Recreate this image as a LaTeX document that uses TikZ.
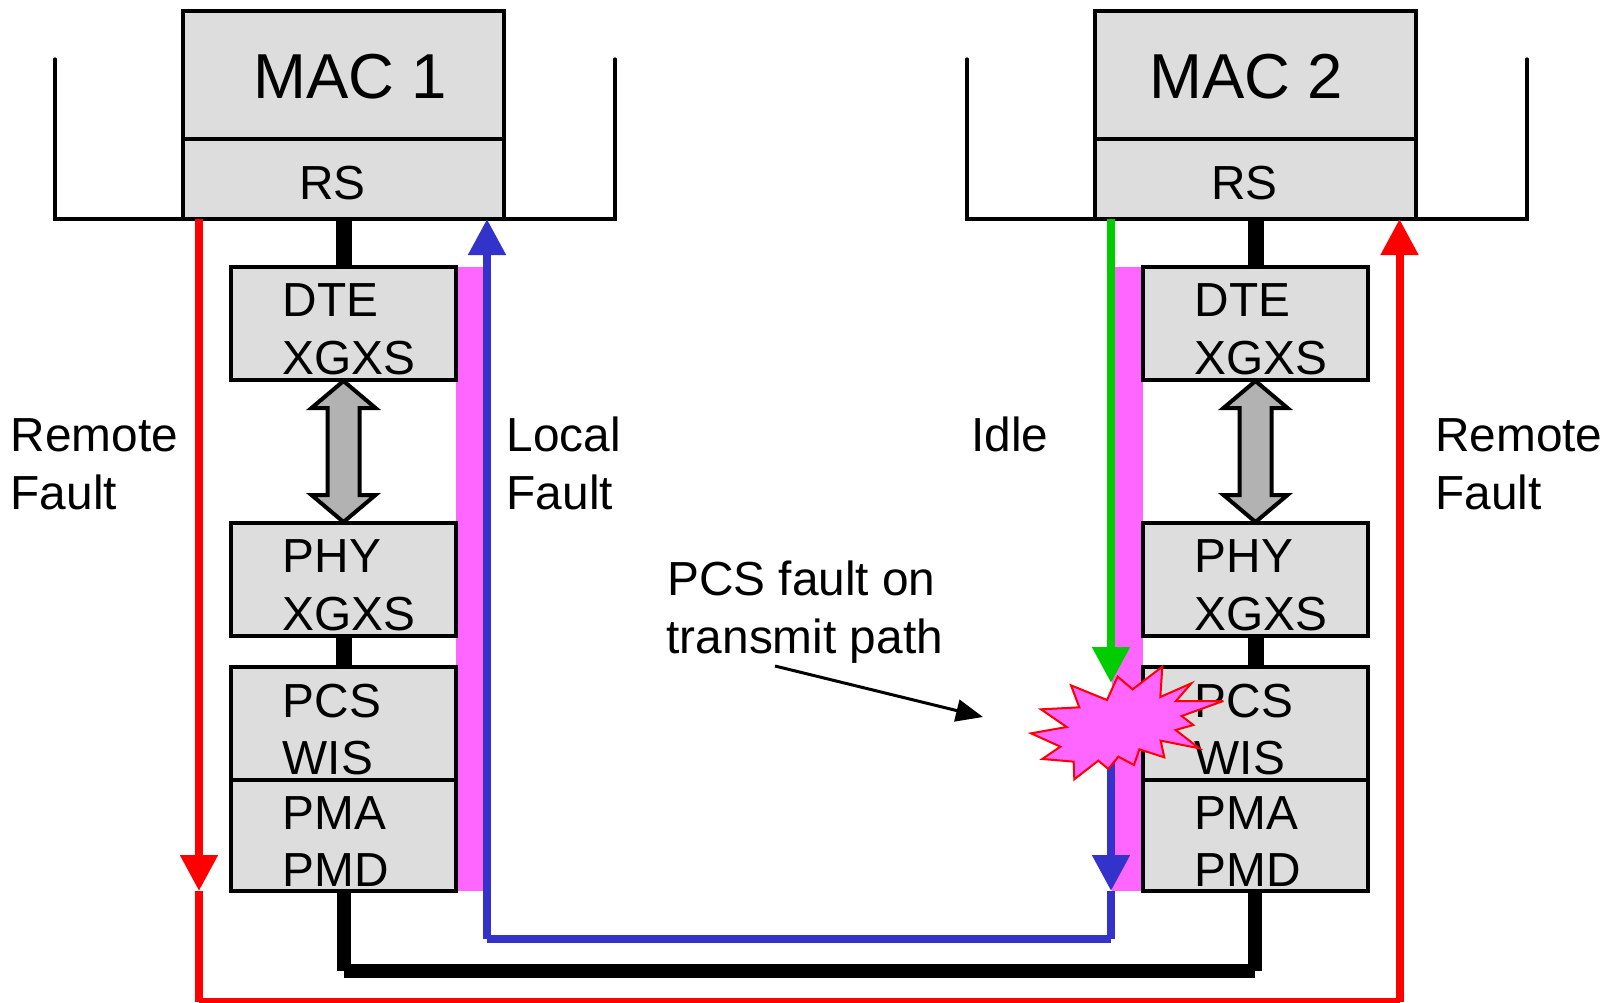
\documentclass[tikz,border=0pt]{standalone}
\usepackage{fontspec}
\setmainfont{Liberation Sans}
\usetikzlibrary{arrows.meta}
\definecolor{boxgray}{HTML}{DDDDDD}
\definecolor{arrowgray}{HTML}{B2B2B2}
\definecolor{magent}{HTML}{FF66FF}
\definecolor{bluepath}{HTML}{3333CC}
\definecolor{greenpath}{HTML}{00CC00}
\tikzset{
  x=1pt,y=-1pt,
  layerbox/.style={draw=black,line width=4pt,fill=boxgray,inner sep=0pt,outer sep=0pt,anchor=north west},
  lbl/.style={anchor=base west,inner sep=0pt,font=\fontsize{47.8}{56}\selectfont},
  maclbl/.style={anchor=base west,inner sep=0pt,font=\fontsize{63.5}{72}\selectfont},
  rail/.style={line width=3.2pt,line cap=round},
  wire/.style={line width=16pt,black},
  wireb/.style={line width=14pt,black},
  redp/.style={line width=8pt,red},
  bluep/.style={line width=8pt,bluepath},
  greenp/.style={line width=8pt,greenpath},
  tip/.style={-{Triangle[length=36pt,width=36pt]}},
  dbl/.style={draw=black,line width=4pt,fill=arrowgray,miter limit=10},
  magbar/.style={fill=magent,draw=none},
}
\begin{document}
\begin{tikzpicture}
\useasboundingbox (0,0) rectangle (1616,1002);
% magenta bars
\fill[magbar] (456,267) rectangle (487,891);
\fill[magbar] (1112,267) rectangle (1143,891);
% rails
\coordinate (r1a) at (55,59); \coordinate (r1b) at (55,219); \coordinate (r1c) at (615,219); \coordinate (r1d) at (615,59);
\coordinate (r2a) at (967,59); \coordinate (r2b) at (967,219); \coordinate (r2c) at (1527,219); \coordinate (r2d) at (1527,59);
\draw[rail] (r1a)--(r1b)--(r1c)--(r1d);
\draw[rail] (r2a)--(r2b)--(r2c)--(r2d);
% MAC / RS
\foreach \n/\x in {1/183,2/1095}{
  \node[layerbox,minimum width=321pt,minimum height=128pt] (mac\n) at (\x,11) {};
  \node[layerbox,minimum width=321pt,minimum height=80pt] (rs\n) at (\x,139) {};
}
% stack boxes
\foreach \n/\x in {1/231,2/1143}{
  \node[layerbox,minimum width=225pt,minimum height=113pt] (dte\n) at (\x,267) {};
  \node[layerbox,minimum width=225pt,minimum height=113pt] (phy\n) at (\x,523) {};
  \node[layerbox,minimum width=225pt,minimum height=113pt] (pcs\n) at (\x,667) {};
  \node[layerbox,minimum width=225pt,minimum height=111pt] (pma\n) at (\x,780) {};
}
% black wires
\foreach \n in {1,2}{
  \draw[wire] (rs\n.south)--(dte\n.north);
  \draw[wire] (phy\n.south)--(pcs\n.north);
}
\coordinate (c1) at (344,971); \coordinate (c2) at (1255,971);
\draw[wireb] (pma1.south -| c1)--(c1);
\draw[wireb] (c1)--(c2);
\draw[wireb] (pma2.south -| c2)--(c2);
% double arrows
\foreach \c in {343.5,1255.5}{
  \draw[dbl] (\c,381)--(\c+32,408)--(\c+16,408)--(\c+16,495)--(\c+32,495)--(\c,522)--(\c-32,495)--(\c-16,495)--(\c-16,408)--(\c-32,408)--cycle;
}
% red paths
\coordinate (ra) at (199,219); \coordinate (rb) at (199,891); \coordinate (rc) at (199,1002); \coordinate (rd) at (1399.5,1002); \coordinate (re) at (1399.5,219);
\draw[redp,tip] (ra)--(rb);
\draw[redp] (rb)--(rc);
\draw[redp] (rc)--(rd);
\draw[redp,tip] (rd)--(re);
% blue path
\coordinate (ba) at (487,939); \coordinate (bb) at (487,219); \coordinate (bc) at (1111,939); \coordinate (bd) at (1111,891); \coordinate (be) at (1111,750);
\draw[bluep,tip] (ba)--(bb);
\draw[bluep] (ba)--(bc);
\draw[bluep] (bc)--(bd);
\draw[bluep,tip] (be)--(bd);
% green
\coordinate (ga) at (1111,219); \coordinate (gb) at (1111,683);
\draw[greenp,tip] (ga)--(gb);
% labels
\node[maclbl] (t1) at (253,98) {MAC 1};
\node[maclbl] (t2) at (1149,98) {MAC 2};
\node[lbl] (t3) at (299,199) {RS};
\node[lbl] (t4) at (1211,199) {RS};
\foreach \x/\s in {282.5/a,1194.5/b}{
  \node[lbl] (dt\s) at (\x,316) {DTE};
  \node[lbl] (xa\s) at (\x,374) {XGXS};
  \node[lbl] (ph\s) at (\x,572) {PHY};
  \node[lbl] (xb\s) at (\x,630) {XGXS};
  \node[lbl] (pc\s) at (\x,717) {PCS};
  \node[lbl] (wi\s) at (\x,774) {WIS};
  \node[lbl] (pm\s) at (\x,829) {PMA};
  \node[lbl] (pd\s) at (\x,886) {PMD};
}
\node[lbl] (rf1) at (10.5,451) {Remote};
\node[lbl] (rf2) at (10.5,509) {Fault};
\node[lbl] (lf1) at (506.5,451) {Local};
\node[lbl] (lf2) at (506.5,509) {Fault};
\node[lbl] (id1) at (971,451) {Idle};
\node[lbl] (rf3) at (1435,451) {Remote};
\node[lbl] (rf4) at (1435,509) {Fault};
\node[lbl] (pf1) at (667,595) {PCS fault on};
\node[lbl] (pf2) at (666.5,653) {transmit path};
% annotation arrow
\coordinate (aa) at (775,666); \coordinate (ab) at (983,717);
\draw[line width=3pt,-{Triangle[length=27pt,width=22pt]}] (aa)--(ab);
% burst
\begin{scope}[shift={(980,620)},x=0.3333pt,y=-0.3333pt]
\draw[red,line width=2pt,fill=magent,line join=miter,miter limit=5]
 (153,340)--(260,321)--(183,268)--(298,262)--(273,196)--(381,240)--(413,170)--(458,208)--(547,140)--(541,231)--(634,190)--(588,243)--(730,243)--(605,288)--(640,315)--(587,330)--(658,385)--(542,362)--(553,412)--(478,388)--(462,435)--(415,410)--(385,447)--(355,422)--(283,478)--(281,425)--(187,417)--(241,380)--cycle;
\end{scope}
\end{tikzpicture}
\end{document}
